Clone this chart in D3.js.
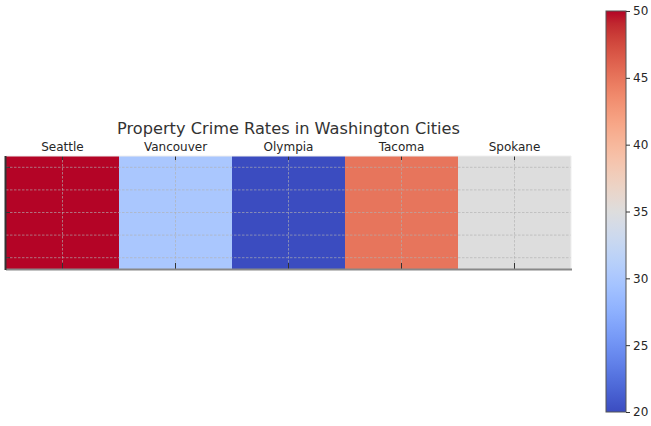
<!DOCTYPE html>
<html>
<head>
<meta charset="utf-8">
<script src="https://cdnjs.cloudflare.com/ajax/libs/d3/7.8.5/d3.min.js"></script>
<style>
	body { margin: 0; background: #fff; }
	svg { display: block; font-family: "DejaVu Sans", sans-serif; }
</style>
</head>
<body>
<div id="chart"></div>
<script>
// data
const cities = ["Seattle", "Vancouver", "Olympia", "Tacoma", "Spokane"];
const crimeRates = [50, 30, 20, 45, 35];
const colorTicks = [20, 25, 30, 35, 40, 45, 50];
const title = "Property Crime Rates in Washington Cities";

// matplotlib coolwarm control colours
const coolwarm = [
	"#3b4cc0", "#445acc", "#4d68d7", "#5775e1", "#6282ea", "#6c8ef1", "#779af7", "#82a5fb",
	"#8db0fe", "#98b9ff", "#a3c2ff", "#aec9fd", "#b8d0f9", "#c2d5f4", "#ccd9ee", "#d5dbe6",
	"#dddddd", "#e5d8d1", "#ecd3c5", "#f1ccb9", "#f5c4ad", "#f7bba0", "#f7b194", "#f7a687",
	"#f49a7b", "#f18d6f", "#ec7f63", "#e57058", "#de604d", "#d55042", "#cb3e38", "#c0282f",
	"#b40426"
];
const cmap = d3.scaleLinear()
	.domain(d3.range(coolwarm.length).map(i => i / (coolwarm.length - 1)))
	.range(coolwarm)
	.interpolate(d3.interpolateRgb);

const W = 651, H = 426;
const svg = d3.select("#chart").append("svg")
	.attr("width", W)
	.attr("height", H);

// heatmap area
const hm = {left: 6, right: 571, top: 156, bottom: 269};

const x = d3.scaleBand()
	.domain(cities)
	.range([hm.left, hm.right]);
const y = d3.scaleLinear()
	.domain([-0.5, 0.5])
	.range([hm.top, hm.bottom]);
const color = d3.scaleLinear()
	.domain([20, 50])
	.range([0, 1]);

const g = svg.append("g");

// cells
g.selectAll("rect.cell")
	.data(cities)
	.enter()
	.append("rect")
	.attr("class", "cell")
	.attr("x", d => x(d))
	.attr("y", y(-0.5))
	.attr("width", x.bandwidth())
	.attr("height", y(0.5) - y(-0.5))
	.attr("fill", (d, i) => cmap(color(crimeRates[i])));

// grid lines
const gridY = [-0.4, -0.2, 0, 0.2, 0.4];
g.selectAll("line.gy")
	.data(gridY)
	.enter()
	.append("line")
	.attr("x1", hm.left)
	.attr("x2", hm.right)
	.attr("y1", d => y(d))
	.attr("y2", d => y(d))
	.attr("stroke", "#b0b0b0")
	.attr("stroke-opacity", 0.8)
	.attr("stroke-width", 0.8)
	.attr("stroke-dasharray", "2.5,1.5");

g.selectAll("line.gx")
	.data(cities)
	.enter()
	.append("line")
	.attr("x1", d => x(d) + x.bandwidth() / 2)
	.attr("x2", d => x(d) + x.bandwidth() / 2)
	.attr("y1", hm.top)
	.attr("y2", hm.bottom)
	.attr("stroke", "#b0b0b0")
	.attr("stroke-opacity", 0.8)
	.attr("stroke-width", 0.8)
	.attr("stroke-dasharray", "2.5,1.5");

// ticks (inward)
g.selectAll("line.tt")
	.data(cities)
	.enter()
	.append("line")
	.attr("x1", d => x(d) + x.bandwidth() / 2)
	.attr("x2", d => x(d) + x.bandwidth() / 2)
	.attr("y1", hm.top)
	.attr("y2", hm.top + 4)
	.attr("stroke", "#333")
	.attr("stroke-width", 1);
g.selectAll("line.tb")
	.data(cities)
	.enter()
	.append("line")
	.attr("x1", d => x(d) + x.bandwidth() / 2)
	.attr("x2", d => x(d) + x.bandwidth() / 2)
	.attr("y1", hm.bottom)
	.attr("y2", hm.bottom - 6)
	.attr("stroke", "#333")
	.attr("stroke-width", 1);
g.selectAll("line.tl")
	.data([-0.4, 0, 0.4])
	.enter()
	.append("line")
	.attr("x1", hm.left)
	.attr("x2", hm.left + 4)
	.attr("y1", d => y(d))
	.attr("y2", d => y(d))
	.attr("stroke", "#333")
	.attr("stroke-width", 1);

// spines
g.append("line")
	.attr("x1", hm.left).attr("x2", hm.right)
	.attr("y1", hm.top).attr("y2", hm.top)
	.attr("stroke", "#eee").attr("stroke-width", 1);
g.append("line")
	.attr("x1", hm.right).attr("x2", hm.right)
	.attr("y1", hm.top).attr("y2", hm.bottom)
	.attr("stroke", "#eee").attr("stroke-width", 1);
g.append("line")
	.attr("x1", hm.left).attr("x2", hm.right + 1)
	.attr("y1", hm.bottom + 0.5).attr("y2", hm.bottom + 0.5)
	.attr("stroke", "#888").attr("stroke-width", 2);
g.append("line")
	.attr("x1", hm.left - 0.5).attr("x2", hm.left - 0.5)
	.attr("y1", hm.top).attr("y2", hm.bottom + 1)
	.attr("stroke", "#333").attr("stroke-width", 2);

// column labels on top
g.selectAll("text.lab")
	.data(cities)
	.enter()
	.append("text")
	.attr("x", d => x(d) + x.bandwidth() / 2)
	.attr("y", hm.top - 5)
	.attr("text-anchor", "middle")
	.attr("font-size", 12)
	.attr("fill", "#262626")
	.text(d => d);

// title
svg.append("text")
	.attr("x", (hm.left + hm.right) / 2)
	.attr("y", 134)
	.attr("text-anchor", "middle")
	.attr("font-size", 16.2)
	.attr("fill", "#333")
	.text(title);

// colorbar
const cb = {left: 606, width: 20, top: 11, bottom: 412};
const cy = d3.scaleLinear()
	.domain([20, 50])
	.range([cb.bottom, cb.top]);

const defs = svg.append("defs");
const grad = defs.append("linearGradient")
	.attr("id", "cbgrad")
	.attr("x1", 0).attr("y1", 1)
	.attr("x2", 0).attr("y2", 0);
grad.selectAll("stop")
	.data(coolwarm)
	.enter()
	.append("stop")
	.attr("offset", (d, i) => i / (coolwarm.length - 1))
	.attr("stop-color", d => d);

svg.append("rect")
	.attr("x", cb.left)
	.attr("y", cb.top)
	.attr("width", cb.width)
	.attr("height", cb.bottom - cb.top)
	.attr("fill", "url(#cbgrad)")
	.attr("stroke", "#555")
	.attr("stroke-width", 1);

const cbAxis = d3.axisRight(cy)
	.tickValues(colorTicks)
	.tickSize(4)
	.tickPadding(3);
const cbg = svg.append("g")
	.attr("transform", "translate(" + (cb.left + cb.width) + ",0)")
	.call(cbAxis);
cbg.select(".domain").remove();
cbg.selectAll(".tick line").attr("stroke", "#333");
cbg.selectAll(".tick text")
	.attr("font-size", 12)
	.attr("fill", "#262626")
	.attr("font-family", "DejaVu Sans, sans-serif");
</script>
</body>
</html>
